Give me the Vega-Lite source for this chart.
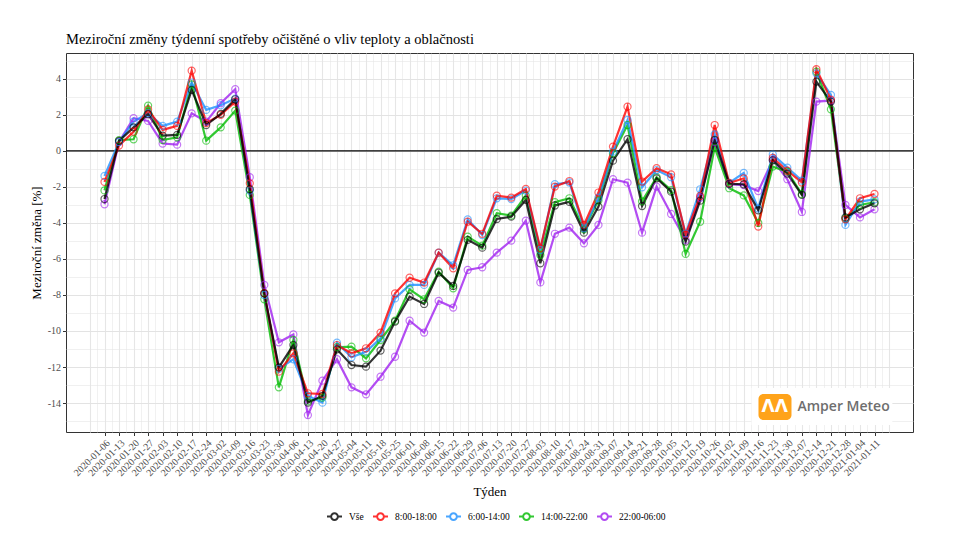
{
  "$schema": "https://vega.github.io/schema/vega-lite/v6.json",
  "autosize": "none",
  "width": 847,
  "height": 379,
  "padding": {"left": 66, "top": 53, "right": 47, "bottom": 118},
  "background": "white",
  "title": {"text": "Meziroční změny týdenní spotřeby očištěné o vliv teploty a oblačnosti", "anchor": "start", "frame": "group", "font": "Liberation Serif", "fontSize": 14.5, "fontWeight": "normal", "color": "#000000", "offset": 6},
  "config": {
    "font": "Liberation Serif",
    "view": {"stroke": "#333333", "strokeWidth": 1},
    "axis": {"domain": false, "grid": true, "gridColor": "#E6E6E6", "tickColor": "#333333", "tickSize": 3.5, "labelColor": "#4D4D4D", "labelFont": "Liberation Serif", "labelFontSize": 10, "labelPadding": 2, "titleFont": "Liberation Serif", "titleFontSize": 13, "titleFontWeight": "normal", "titleColor": "#000000"}
  },
  "data": {"values": [
    {"t":"2020-01-06","s":"22:00-06:00","v":-2.96},{"t":"2020-01-13","s":"22:00-06:00","v":0.5},{"t":"2020-01-20","s":"22:00-06:00","v":1.82},{"t":"2020-01-27","s":"22:00-06:00","v":1.67},{"t":"2020-02-03","s":"22:00-06:00","v":0.41},{"t":"2020-02-10","s":"22:00-06:00","v":0.35},{"t":"2020-02-17","s":"22:00-06:00","v":2.09},{"t":"2020-02-24","s":"22:00-06:00","v":1.63},{"t":"2020-03-02","s":"22:00-06:00","v":2.65},{"t":"2020-03-09","s":"22:00-06:00","v":3.43},{"t":"2020-03-16","s":"22:00-06:00","v":-1.46},{"t":"2020-03-23","s":"22:00-06:00","v":-7.44},{"t":"2020-03-30","s":"22:00-06:00","v":-10.63},{"t":"2020-04-06","s":"22:00-06:00","v":-10.19},{"t":"2020-04-13","s":"22:00-06:00","v":-14.67},{"t":"2020-04-20","s":"22:00-06:00","v":-12.76},{"t":"2020-04-27","s":"22:00-06:00","v":-11.57},{"t":"2020-05-04","s":"22:00-06:00","v":-13.13},{"t":"2020-05-11","s":"22:00-06:00","v":-13.52},{"t":"2020-05-18","s":"22:00-06:00","v":-12.54},{"t":"2020-05-25","s":"22:00-06:00","v":-11.43},{"t":"2020-06-01","s":"22:00-06:00","v":-9.43},{"t":"2020-06-08","s":"22:00-06:00","v":-10.09},{"t":"2020-06-15","s":"22:00-06:00","v":-8.33},{"t":"2020-06-22","s":"22:00-06:00","v":-8.7},{"t":"2020-06-29","s":"22:00-06:00","v":-6.61},{"t":"2020-07-06","s":"22:00-06:00","v":-6.46},{"t":"2020-07-13","s":"22:00-06:00","v":-5.65},{"t":"2020-07-20","s":"22:00-06:00","v":-4.98},{"t":"2020-07-27","s":"22:00-06:00","v":-3.87},{"t":"2020-08-03","s":"22:00-06:00","v":-7.3},{"t":"2020-08-10","s":"22:00-06:00","v":-4.6},{"t":"2020-08-17","s":"22:00-06:00","v":-4.26},{"t":"2020-08-24","s":"22:00-06:00","v":-5.13},{"t":"2020-08-31","s":"22:00-06:00","v":-4.11},{"t":"2020-09-07","s":"22:00-06:00","v":-1.57},{"t":"2020-09-14","s":"22:00-06:00","v":-1.76},{"t":"2020-09-21","s":"22:00-06:00","v":-4.54},{"t":"2020-09-28","s":"22:00-06:00","v":-1.98},{"t":"2020-10-05","s":"22:00-06:00","v":-3.5},{"t":"2020-10-12","s":"22:00-06:00","v":-4.95},{"t":"2020-10-19","s":"22:00-06:00","v":-2.6},{"t":"2020-10-26","s":"22:00-06:00","v":0.5},{"t":"2020-11-02","s":"22:00-06:00","v":-1.85},{"t":"2020-11-09","s":"22:00-06:00","v":-1.9},{"t":"2020-11-16","s":"22:00-06:00","v":-2.23},{"t":"2020-11-23","s":"22:00-06:00","v":-0.5},{"t":"2020-11-30","s":"22:00-06:00","v":-1.57},{"t":"2020-12-07","s":"22:00-06:00","v":-3.39},{"t":"2020-12-14","s":"22:00-06:00","v":2.74},{"t":"2020-12-21","s":"22:00-06:00","v":2.8},{"t":"2020-12-28","s":"22:00-06:00","v":-3.0},{"t":"2021-01-04","s":"22:00-06:00","v":-3.69},{"t":"2021-01-11","s":"22:00-06:00","v":-3.24},
    {"t":"2020-01-06","s":"14:00-22:00","v":-2.19},{"t":"2020-01-13","s":"14:00-22:00","v":0.6},{"t":"2020-01-20","s":"14:00-22:00","v":0.65},{"t":"2020-01-27","s":"14:00-22:00","v":2.52},{"t":"2020-02-03","s":"14:00-22:00","v":0.61},{"t":"2020-02-10","s":"14:00-22:00","v":0.76},{"t":"2020-02-17","s":"14:00-22:00","v":3.7},{"t":"2020-02-24","s":"14:00-22:00","v":0.57},{"t":"2020-03-02","s":"14:00-22:00","v":1.31},{"t":"2020-03-09","s":"14:00-22:00","v":2.24},{"t":"2020-03-16","s":"14:00-22:00","v":-2.44},{"t":"2020-03-23","s":"14:00-22:00","v":-8.24},{"t":"2020-03-30","s":"14:00-22:00","v":-13.13},{"t":"2020-04-06","s":"14:00-22:00","v":-10.5},{"t":"2020-04-13","s":"14:00-22:00","v":-13.9},{"t":"2020-04-20","s":"14:00-22:00","v":-13.7},{"t":"2020-04-27","s":"14:00-22:00","v":-10.9},{"t":"2020-05-04","s":"14:00-22:00","v":-10.87},{"t":"2020-05-11","s":"14:00-22:00","v":-11.52},{"t":"2020-05-18","s":"14:00-22:00","v":-10.5},{"t":"2020-05-25","s":"14:00-22:00","v":-9.43},{"t":"2020-06-01","s":"14:00-22:00","v":-7.69},{"t":"2020-06-08","s":"14:00-22:00","v":-8.24},{"t":"2020-06-15","s":"14:00-22:00","v":-6.7},{"t":"2020-06-22","s":"14:00-22:00","v":-7.63},{"t":"2020-06-29","s":"14:00-22:00","v":-4.76},{"t":"2020-07-06","s":"14:00-22:00","v":-5.26},{"t":"2020-07-13","s":"14:00-22:00","v":-3.46},{"t":"2020-07-20","s":"14:00-22:00","v":-3.59},{"t":"2020-07-27","s":"14:00-22:00","v":-2.48},{"t":"2020-08-03","s":"14:00-22:00","v":-5.78},{"t":"2020-08-10","s":"14:00-22:00","v":-2.85},{"t":"2020-08-17","s":"14:00-22:00","v":-2.63},{"t":"2020-08-24","s":"14:00-22:00","v":-4.35},{"t":"2020-08-31","s":"14:00-22:00","v":-2.75},{"t":"2020-09-07","s":"14:00-22:00","v":-0.13},{"t":"2020-09-14","s":"14:00-22:00","v":1.44},{"t":"2020-09-21","s":"14:00-22:00","v":-2.8},{"t":"2020-09-28","s":"14:00-22:00","v":-1.46},{"t":"2020-10-05","s":"14:00-22:00","v":-2.17},{"t":"2020-10-12","s":"14:00-22:00","v":-5.72},{"t":"2020-10-19","s":"14:00-22:00","v":-3.93},{"t":"2020-10-26","s":"14:00-22:00","v":0.2},{"t":"2020-11-02","s":"14:00-22:00","v":-2.07},{"t":"2020-11-09","s":"14:00-22:00","v":-2.47},{"t":"2020-11-16","s":"14:00-22:00","v":-4.0},{"t":"2020-11-23","s":"14:00-22:00","v":-0.87},{"t":"2020-11-30","s":"14:00-22:00","v":-1.15},{"t":"2020-12-07","s":"14:00-22:00","v":-2.4},{"t":"2020-12-14","s":"14:00-22:00","v":4.4},{"t":"2020-12-21","s":"14:00-22:00","v":2.31},{"t":"2020-12-28","s":"14:00-22:00","v":-3.75},{"t":"2021-01-04","s":"14:00-22:00","v":-3.0},{"t":"2021-01-11","s":"14:00-22:00","v":-2.85},
    {"t":"2020-01-06","s":"6:00-14:00","v":-1.39},{"t":"2020-01-13","s":"6:00-14:00","v":0.5},{"t":"2020-01-20","s":"6:00-14:00","v":1.63},{"t":"2020-01-27","s":"6:00-14:00","v":2.1},{"t":"2020-02-03","s":"6:00-14:00","v":1.39},{"t":"2020-02-10","s":"6:00-14:00","v":1.63},{"t":"2020-02-17","s":"6:00-14:00","v":3.8},{"t":"2020-02-24","s":"6:00-14:00","v":2.28},{"t":"2020-03-02","s":"6:00-14:00","v":2.54},{"t":"2020-03-09","s":"6:00-14:00","v":2.91},{"t":"2020-03-16","s":"6:00-14:00","v":-2.2},{"t":"2020-03-23","s":"6:00-14:00","v":-8.0},{"t":"2020-03-30","s":"6:00-14:00","v":-12.1},{"t":"2020-04-06","s":"6:00-14:00","v":-11.57},{"t":"2020-04-13","s":"6:00-14:00","v":-13.6},{"t":"2020-04-20","s":"6:00-14:00","v":-13.98},{"t":"2020-04-27","s":"6:00-14:00","v":-10.65},{"t":"2020-05-04","s":"6:00-14:00","v":-11.46},{"t":"2020-05-11","s":"6:00-14:00","v":-11.15},{"t":"2020-05-18","s":"6:00-14:00","v":-10.41},{"t":"2020-05-25","s":"6:00-14:00","v":-8.19},{"t":"2020-06-01","s":"6:00-14:00","v":-7.44},{"t":"2020-06-08","s":"6:00-14:00","v":-7.44},{"t":"2020-06-15","s":"6:00-14:00","v":-5.65},{"t":"2020-06-22","s":"6:00-14:00","v":-6.35},{"t":"2020-06-29","s":"6:00-14:00","v":-3.8},{"t":"2020-07-06","s":"6:00-14:00","v":-4.67},{"t":"2020-07-13","s":"6:00-14:00","v":-2.63},{"t":"2020-07-20","s":"6:00-14:00","v":-2.67},{"t":"2020-07-27","s":"6:00-14:00","v":-2.2},{"t":"2020-08-03","s":"6:00-14:00","v":-5.5},{"t":"2020-08-10","s":"6:00-14:00","v":-1.85},{"t":"2020-08-17","s":"6:00-14:00","v":-1.75},{"t":"2020-08-24","s":"6:00-14:00","v":-4.3},{"t":"2020-08-31","s":"6:00-14:00","v":-2.6},{"t":"2020-09-07","s":"6:00-14:00","v":-0.04},{"t":"2020-09-14","s":"6:00-14:00","v":1.72},{"t":"2020-09-21","s":"6:00-14:00","v":-2.02},{"t":"2020-09-28","s":"6:00-14:00","v":-1.06},{"t":"2020-10-05","s":"6:00-14:00","v":-1.46},{"t":"2020-10-12","s":"6:00-14:00","v":-4.6},{"t":"2020-10-19","s":"6:00-14:00","v":-2.13},{"t":"2020-10-26","s":"6:00-14:00","v":0.92},{"t":"2020-11-02","s":"6:00-14:00","v":-1.78},{"t":"2020-11-09","s":"6:00-14:00","v":-1.22},{"t":"2020-11-16","s":"6:00-14:00","v":-3.2},{"t":"2020-11-23","s":"6:00-14:00","v":-0.2},{"t":"2020-11-30","s":"6:00-14:00","v":-0.93},{"t":"2020-12-07","s":"6:00-14:00","v":-1.65},{"t":"2020-12-14","s":"6:00-14:00","v":4.31},{"t":"2020-12-21","s":"6:00-14:00","v":3.11},{"t":"2020-12-28","s":"6:00-14:00","v":-4.11},{"t":"2021-01-04","s":"6:00-14:00","v":-2.81},{"t":"2021-01-11","s":"6:00-14:00","v":-2.69},
    {"t":"2020-01-06","s":"8:00-18:00","v":-1.72},{"t":"2020-01-13","s":"8:00-18:00","v":0.3},{"t":"2020-01-20","s":"8:00-18:00","v":1.07},{"t":"2020-01-27","s":"8:00-18:00","v":2.31},{"t":"2020-02-03","s":"8:00-18:00","v":1.17},{"t":"2020-02-10","s":"8:00-18:00","v":1.39},{"t":"2020-02-17","s":"8:00-18:00","v":4.46},{"t":"2020-02-24","s":"8:00-18:00","v":1.55},{"t":"2020-03-02","s":"8:00-18:00","v":2.0},{"t":"2020-03-09","s":"8:00-18:00","v":2.74},{"t":"2020-03-16","s":"8:00-18:00","v":-1.8},{"t":"2020-03-23","s":"8:00-18:00","v":-7.9},{"t":"2020-03-30","s":"8:00-18:00","v":-12.26},{"t":"2020-04-06","s":"8:00-18:00","v":-11.24},{"t":"2020-04-13","s":"8:00-18:00","v":-13.46},{"t":"2020-04-20","s":"8:00-18:00","v":-13.5},{"t":"2020-04-27","s":"8:00-18:00","v":-10.78},{"t":"2020-05-04","s":"8:00-18:00","v":-11.24},{"t":"2020-05-11","s":"8:00-18:00","v":-10.96},{"t":"2020-05-18","s":"8:00-18:00","v":-10.09},{"t":"2020-05-25","s":"8:00-18:00","v":-7.91},{"t":"2020-06-01","s":"8:00-18:00","v":-7.04},{"t":"2020-06-08","s":"8:00-18:00","v":-7.31},{"t":"2020-06-15","s":"8:00-18:00","v":-5.65},{"t":"2020-06-22","s":"8:00-18:00","v":-6.52},{"t":"2020-06-29","s":"8:00-18:00","v":-3.93},{"t":"2020-07-06","s":"8:00-18:00","v":-4.6},{"t":"2020-07-13","s":"8:00-18:00","v":-2.48},{"t":"2020-07-20","s":"8:00-18:00","v":-2.59},{"t":"2020-07-27","s":"8:00-18:00","v":-2.11},{"t":"2020-08-03","s":"8:00-18:00","v":-5.41},{"t":"2020-08-10","s":"8:00-18:00","v":-1.98},{"t":"2020-08-17","s":"8:00-18:00","v":-1.67},{"t":"2020-08-24","s":"8:00-18:00","v":-4.11},{"t":"2020-08-31","s":"8:00-18:00","v":-2.31},{"t":"2020-09-07","s":"8:00-18:00","v":0.24},{"t":"2020-09-14","s":"8:00-18:00","v":2.46},{"t":"2020-09-21","s":"8:00-18:00","v":-1.7},{"t":"2020-09-28","s":"8:00-18:00","v":-0.96},{"t":"2020-10-05","s":"8:00-18:00","v":-1.3},{"t":"2020-10-12","s":"8:00-18:00","v":-4.65},{"t":"2020-10-19","s":"8:00-18:00","v":-2.5},{"t":"2020-10-26","s":"8:00-18:00","v":1.44},{"t":"2020-11-02","s":"8:00-18:00","v":-1.78},{"t":"2020-11-09","s":"8:00-18:00","v":-1.52},{"t":"2020-11-16","s":"8:00-18:00","v":-4.2},{"t":"2020-11-23","s":"8:00-18:00","v":-0.38},{"t":"2020-11-30","s":"8:00-18:00","v":-1.1},{"t":"2020-12-07","s":"8:00-18:00","v":-1.75},{"t":"2020-12-14","s":"8:00-18:00","v":4.54},{"t":"2020-12-21","s":"8:00-18:00","v":2.85},{"t":"2020-12-28","s":"8:00-18:00","v":-3.8},{"t":"2021-01-04","s":"8:00-18:00","v":-2.63},{"t":"2021-01-11","s":"8:00-18:00","v":-2.39},
    {"t":"2020-01-06","s":"Vše","v":-2.67},{"t":"2020-01-13","s":"Vše","v":0.56},{"t":"2020-01-20","s":"Vše","v":1.31},{"t":"2020-01-27","s":"Vše","v":2.04},{"t":"2020-02-03","s":"Vše","v":0.85},{"t":"2020-02-10","s":"Vše","v":0.89},{"t":"2020-02-17","s":"Vše","v":3.39},{"t":"2020-02-24","s":"Vše","v":1.44},{"t":"2020-03-02","s":"Vše","v":2.06},{"t":"2020-03-09","s":"Vše","v":2.87},{"t":"2020-03-16","s":"Vše","v":-2.13},{"t":"2020-03-23","s":"Vše","v":-7.91},{"t":"2020-03-30","s":"Vše","v":-12.02},{"t":"2020-04-06","s":"Vše","v":-10.78},{"t":"2020-04-13","s":"Vše","v":-13.98},{"t":"2020-04-20","s":"Vše","v":-13.6},{"t":"2020-04-27","s":"Vše","v":-11.02},{"t":"2020-05-04","s":"Vše","v":-11.89},{"t":"2020-05-11","s":"Vše","v":-11.98},{"t":"2020-05-18","s":"Vše","v":-11.09},{"t":"2020-05-25","s":"Vše","v":-9.48},{"t":"2020-06-01","s":"Vše","v":-8.09},{"t":"2020-06-08","s":"Vše","v":-8.5},{"t":"2020-06-15","s":"Vše","v":-6.76},{"t":"2020-06-22","s":"Vše","v":-7.5},{"t":"2020-06-29","s":"Vše","v":-4.94},{"t":"2020-07-06","s":"Vše","v":-5.37},{"t":"2020-07-13","s":"Vše","v":-3.78},{"t":"2020-07-20","s":"Vše","v":-3.65},{"t":"2020-07-27","s":"Vše","v":-2.72},{"t":"2020-08-03","s":"Vše","v":-6.24},{"t":"2020-08-10","s":"Vše","v":-3.03},{"t":"2020-08-17","s":"Vše","v":-2.83},{"t":"2020-08-24","s":"Vše","v":-4.54},{"t":"2020-08-31","s":"Vše","v":-3.09},{"t":"2020-09-07","s":"Vše","v":-0.54},{"t":"2020-09-14","s":"Vše","v":0.65},{"t":"2020-09-21","s":"Vše","v":-3.06},{"t":"2020-09-28","s":"Vše","v":-1.52},{"t":"2020-10-05","s":"Vše","v":-2.26},{"t":"2020-10-12","s":"Vše","v":-5.04},{"t":"2020-10-19","s":"Vše","v":-2.76},{"t":"2020-10-26","s":"Vše","v":0.61},{"t":"2020-11-02","s":"Vše","v":-1.83},{"t":"2020-11-09","s":"Vše","v":-1.85},{"t":"2020-11-16","s":"Vše","v":-3.3},{"t":"2020-11-23","s":"Vše","v":-0.52},{"t":"2020-11-30","s":"Vše","v":-1.26},{"t":"2020-12-07","s":"Vše","v":-2.44},{"t":"2020-12-14","s":"Vše","v":3.85},{"t":"2020-12-21","s":"Vše","v":2.74},{"t":"2020-12-28","s":"Vše","v":-3.69},{"t":"2021-01-04","s":"Vše","v":-3.24},{"t":"2021-01-11","s":"Vše","v":-2.91}
  ]},
  "layer": [
    {
      "data": {"values": [{}]},
      "mark": {"type": "rule", "color": "#000000", "strokeWidth": 1.3},
      "encoding": {"y": {"datum": 0, "type": "quantitative",
        "scale": {"domain": [-15.61, 5.44], "nice": false, "zero": false},
        "axis": {
          "title": "Meziroční změna [%]", "titlePadding": 4, "tickCount": 100, "grid": true, "gridColor": "#E3E3E3",
          "values": [-15,-14,-13,-12,-11,-10,-9,-8,-7,-6,-5,-4,-3,-2,-1,0,1,2,3,4,5],
          "labelExpr": "datum.value % 2 == 0 ? '' + datum.value : ''",
          "labelOverlap": false,
          "tickOpacity": {"condition": {"test": "datum.value % 2 == 0", "value": 1}, "value": 0},
          "gridWidth": {"condition": {"test": "datum.value % 2 == 0", "value": 1.1}, "value": 0.55}
        }}}
    },
    {
      "mark": {"type": "line", "strokeWidth": 2.2, "opacity": 0.8},
      "encoding": {
        "x": {"field": "t", "type": "temporal",
          "scale": {"type": "utc", "domain": [1576666080000, 1611925920000], "nice": false},
          "axis": {
            "title": "Týden", "titlePadding": 8, "tickCount": 500,
            "values": [1577664000000,1577966400000,1578268800000,1578571200000,1578873600000,1579176000000,1579478400000,1579780800000,1580083200000,1580385600000,1580688000000,1580990400000,1581292800000,1581595200000,1581897600000,1582200000000,1582502400000,1582804800000,1583107200000,1583409600000,1583712000000,1584014400000,1584316800000,1584619200000,1584921600000,1585224000000,1585526400000,1585828800000,1586131200000,1586433600000,1586736000000,1587038400000,1587340800000,1587643200000,1587945600000,1588248000000,1588550400000,1588852800000,1589155200000,1589457600000,1589760000000,1590062400000,1590364800000,1590667200000,1590969600000,1591272000000,1591574400000,1591876800000,1592179200000,1592481600000,1592784000000,1593086400000,1593388800000,1593691200000,1593993600000,1594296000000,1594598400000,1594900800000,1595203200000,1595505600000,1595808000000,1596110400000,1596412800000,1596715200000,1597017600000,1597320000000,1597622400000,1597924800000,1598227200000,1598529600000,1598832000000,1599134400000,1599436800000,1599739200000,1600041600000,1600344000000,1600646400000,1600948800000,1601251200000,1601553600000,1601856000000,1602158400000,1602460800000,1602763200000,1603065600000,1603368000000,1603670400000,1603972800000,1604275200000,1604577600000,1604880000000,1605182400000,1605484800000,1605787200000,1606089600000,1606392000000,1606694400000,1606996800000,1607299200000,1607601600000,1607904000000,1608206400000,1608508800000,1608811200000,1609113600000,1609416000000,1609718400000,1610020800000,1610323200000,1610625600000,1610928000000],
            "labelExpr": "((+datum.value) - 1578268800000) % 604800000 == 0 && (+datum.value) >= 1578268800000 && (+datum.value) <= 1610323200000 ? utcFormat(datum.value, '%Y-%m-%d') : ''",
            "labelAngle": -45, "labelOverlap": false, "labelFlush": false,
            "tickOpacity": {"condition": {"test": "((+datum.value) - 1578268800000) % 604800000 == 0 && (+datum.value) >= 1578268800000 && (+datum.value) <= 1610323200000", "value": 1}, "value": 0},
            "gridWidth": {"condition": {"test": "((+datum.value) - 1578268800000) % 604800000 == 0", "value": 1.1}, "value": 0.55}
          }
        },
        "y": {"field": "v", "type": "quantitative"},
        "color": {"field": "s", "type": "nominal",
          "scale": {"domain": ["Vše", "8:00-18:00", "6:00-14:00", "14:00-22:00", "22:00-06:00"], "range": ["#000000", "#FF0000", "#1E90FF", "#00BB00", "#A020F0"]},
          "legend": {"title": null, "orient": "none", "direction": "horizontal", "legendX": 260, "legendY": 455,
            "symbolType": "M -1 0 L -0.45 0 M 0.45 0 L 1 0 M -0.45 0 A 0.45 0.45 0 1 1 0.45 0 A 0.45 0.45 0 1 1 -0.45 0",
            "symbolSize": 225, "symbolStrokeWidth": 2, "symbolFillColor": "white",
            "labelFont": "Liberation Serif", "labelFontSize": 9.5, "labelColor": "#000000", "labelOffset": 6, "columnPadding": 5}
        },
        "detail": {"field": "s"}
      }
    },
    {
      "mark": {"type": "point", "filled": false, "size": 50, "strokeWidth": 1.2, "opacity": 0.6},
      "encoding": {
        "x": {"field": "t", "type": "temporal"},
        "y": {"field": "v", "type": "quantitative"},
        "color": {"field": "s", "type": "nominal"}
      }
    },
    {
      "data": {"values": [{}]},
      "mark": {"type": "rect", "color": "white"},
      "encoding": {
        "x": {"datum": 1605204000000, "type": "temporal"},
        "x2": {"datum": 1611066240000},
        "y": {"datum": -13.17, "type": "quantitative"},
        "y2": {"datum": -15.22}
      }
    },
    {
      "data": {"values": [{}]},
      "mark": {"type": "rect", "color": "#FFA31A", "cornerRadius": 5},
      "encoding": {
        "x": {"datum": 1605493440000, "type": "temporal"},
        "x2": {"datum": 1606867200000},
        "y": {"datum": -13.5, "type": "quantitative"},
        "y2": {"datum": -14.94}
      }
    },
    {
      "data": {"values": [{}]},
      "mark": {"type": "text", "text": "ΛΛ", "color": "white", "font": "DejaVu Sans", "fontWeight": "bold", "fontSize": 17, "align": "center", "baseline": "middle"},
      "encoding": {
        "x": {"datum": 1606167360000, "type": "temporal"},
        "y": {"datum": -14.22, "type": "quantitative"}
      }
    },
    {
      "data": {"values": [{}]},
      "mark": {"type": "text", "text": "Amper Meteo", "color": "#6E6E6E", "font": "Open Sans", "fontWeight": 600, "fontSize": 14, "align": "left", "baseline": "middle"},
      "encoding": {
        "x": {"datum": 1607117760000, "type": "temporal"},
        "y": {"datum": -14.22, "type": "quantitative"}
      }
    }
  ]
}
